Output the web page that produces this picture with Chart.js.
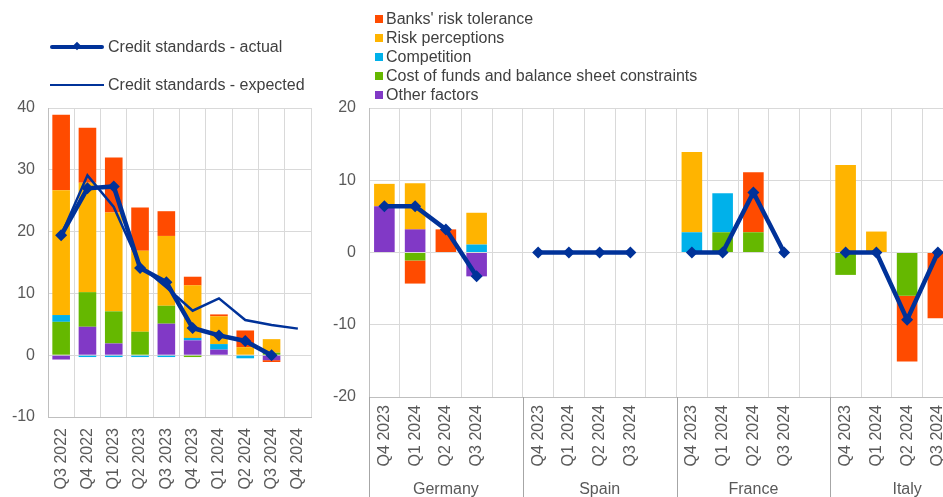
<!DOCTYPE html>
<html lang="en">
<head>
<meta charset="UTF-8">
<script src="https://cdn.jsdelivr.net/npm/chart.js@4.4.1/dist/chart.umd.min.js"></script>
<title>Credit standards</title>
<style>
  body { margin: 0; width: 943px; height: 497px; overflow: hidden; background: #fff;
         font-family: "Liberation Sans", Arial, sans-serif; color: #404040; position: relative; }
  canvas { position: absolute; top: 0; }
  #left { left: 0; }
  #right { left: 320px; }
  .leg { position: absolute; font-size: 16px; white-space: nowrap; line-height: 19px; }
  .sw { position: absolute; }
  .sq { display: inline-block; width: 8px; height: 8px; margin-right: 3px; vertical-align: 1px; }
</style>
</head>
<body>
<canvas id="left" width="320" height="497"></canvas>
<canvas id="right" width="670" height="497"></canvas>

<!-- legends -->
<div class="sw" style="left:50px;top:45px;width:54px;height:4px;background:#003299;border-radius:2px"></div>
<div class="sw" style="left:74px;top:43px;width:6px;height:6px;background:#003299;transform:rotate(45deg)"></div>
<div class="leg" style="left:108px;top:37px">Credit standards - actual</div>
<div class="sw" style="left:50px;top:84px;width:54px;height:2px;background:#003299"></div>
<div class="leg" style="left:108px;top:75px">Credit standards - expected</div>

<div class="leg" id="legRight" style="left:375px;top:9px"></div>

<script>
// euro area panel
var quartersEA = ['Q3 2022', 'Q4 2022', 'Q1 2023', 'Q2 2023', 'Q3 2023', 'Q4 2023', 'Q1 2024', 'Q2 2024', 'Q3 2024', 'Q4 2024'];
var riskTolEA   = [12.2, 8.9, 8.9, 7.0, 4.0, 1.4, 0.3, 2.7, -0.3, null];
var riskPercEA  = [20.2, 17.7, 16.0, 13.1, 11.3, 8.5, 4.5, 1.3, 2.2, null];
var competEA    = [1.1, -0.3, -0.3, -0.3, -0.3, 0.4, 0.9, -0.5, 0, null];
var costFundsEA = [5.4, 5.6, 5.2, 3.8, 2.9, -0.3, 0, 0, 0.4, null];
var otherEA     = [-0.7, 4.6, 1.9, 0, 5.1, 2.4, 0.9, 0, -0.8, null];
var actualEA    = [19.4, 27.0, 27.3, 14.1, 11.8, 4.4, 3.2, 2.3, 0.0, null];
var expectedEA  = [19.4, 29.1, 24.0, 14.5, 11.0, 7.2, 9.2, 5.7, 4.9, 4.3];

// country panel (Q4 2023 .. Q3 2024 for each country)
var countries = ['Germany', 'Spain', 'France', 'Italy'];
var quartersC = ['Q4 2023', 'Q1 2024', 'Q2 2024', 'Q3 2024'];
var riskTolC = {
  Germany: [0, -3.2, 3.2, 0], Spain: [0, 0, 0, 0], France: [0, 0, 8.3, 0], Italy: [0, 0, -9.1, -9.1]
};
var riskPercC = {
  Germany: [3.1, 6.4, 0, 4.4], Spain: [0, 0, 0, 0], France: [11.1, 0, 0, 0], Italy: [12.1, 2.9, 0, 0]
};
var competC = {
  Germany: [0, 0, 0, 1.1], Spain: [0, 0, 0, 0], France: [2.8, 5.4, 0, 0], Italy: [0, 0, 0, 0]
};
var costFundsC = {
  Germany: [0, -1.1, 0, 0], Spain: [0, 0, 0, 0], France: [0, 2.8, 2.8, 0], Italy: [-3.1, 0, -6.0, 0]
};
var otherC = {
  Germany: [6.4, 3.2, 0, -3.3], Spain: [0, 0, 0, 0], France: [0, 0, 0, 0], Italy: [0, 0, 0, 0]
};
var actualC = {
  Germany: [6.4, 6.4, 3.2, -3.3], Spain: [0, 0, 0, 0], France: [0, 0, 8.3, 0], Italy: [0, 0, -9.3, 0]
};

var factorNames = ["Banks' risk tolerance", 'Risk perceptions', 'Competition', 'Cost of funds and balance sheet constraints', 'Other factors'];
var factorColors = ['#FF4B00', '#FFB400', '#00B1EA', '#65B800', '#8139C6'];
var navy = '#003299';
var gridCol = '#d9d9d9';
var tickCol = '#595959';
var fontSpec = { family: '"Liberation Sans", Arial, sans-serif', size: 16 };

// legend for factors
var legRight = document.getElementById('legRight');
factorNames.forEach(function (n, i) {
  legRight.innerHTML += '<div><span class="sq" style="background:' + factorColors[i] + '"></span>' + n + '</div>';
});

function barSets(series) {
  // stacking from the bottom: other, cost of funds, competition, risk perceptions, risk tolerance
  var order = [4, 3, 2, 1, 0];
  return order.map(function (k) {
    return {
      type: 'bar', label: factorNames[k], data: series[k], backgroundColor: factorColors[k],
      borderWidth: 0, stack: 'bars', order: 2, barPercentage: 0.67, categoryPercentage: 1
    };
  });
}

function yAxis(min, max, width) {
  return {
    stacked: true, min: min, max: max,
    ticks: { stepSize: 10, color: tickCol, font: fontSpec, padding: 13 },
    grid: { color: gridCol, drawTicks: false },
    border: { color: '#bfbfbf' },
    afterFit: function (s) { s.width = width; }
  };
}

function xAxis(height, pad) {
  return {
    stacked: true,
    ticks: { color: tickCol, font: fontSpec, minRotation: 90, maxRotation: 90, autoSkip: false, padding: pad },
    grid: { color: gridCol, drawTicks: false, offset: true },
    border: { color: '#bfbfbf' },
    afterFit: function (s) {
      s.height = height;
      s.paddingLeft = 0;
      s.paddingRight = 0;
    }
  };
}

Chart.defaults.animation = false;

new Chart(document.getElementById('left'), {
  type: 'bar',
  data: {
    labels: quartersEA,
    datasets: [
      { type: 'line', label: 'Credit standards - actual', data: actualEA, borderColor: navy, backgroundColor: navy,
        borderWidth: 4.5, pointStyle: 'rectRot', pointRadius: 6, pointBorderWidth: 0, stack: 'act', order: 0 },
      { type: 'line', label: 'Credit standards - expected', data: expectedEA, borderColor: navy,
        borderWidth: 2.5, pointRadius: 0, stack: 'exp', order: 1 }
    ].concat(barSets([riskTolEA, riskPercEA, competEA, costFundsEA, otherEA]))
  },
  options: {
    responsive: false,
    layout: { padding: { top: 108, right: 9, bottom: 0, left: 0 } },
    plugins: { legend: { display: false }, tooltip: { enabled: false } },
    scales: { x: xAxis(80, 11), y: yAxis(-10, 40, 48) }
  }
});

// build the grouped category axis with a spacer slot after each country
var slotsPerGroup = quartersC.length + 1;
var labelsC = [];
function flat(obj) {
  var out = [];
  countries.forEach(function (c) { out = out.concat(obj[c], [null]); });
  return out;
}
countries.forEach(function () { labelsC = labelsC.concat(quartersC, ['']); });

var groupPlugin = {
  id: 'groups',
  afterDraw: function (chart) {
    var x = chart.scales.x, ctx = chart.ctx;
    var w = (x.right - x.left) / chart.data.labels.length;
    ctx.save();
    ctx.strokeStyle = '#a6a6a6';
    ctx.lineWidth = 1;
    ctx.fillStyle = tickCol;
    ctx.font = '16px "Liberation Sans", Arial, sans-serif';
    ctx.textAlign = 'center';
    ctx.textBaseline = 'middle';
    countries.forEach(function (c, i) {
      var x0 = Math.round(x.left + i * slotsPerGroup * w) + 0.5;
      ctx.beginPath();
      ctx.moveTo(x0, x.top);
      ctx.lineTo(x0, chart.height);
      ctx.stroke();
      ctx.fillText(c, x.left + (i + 0.5) * slotsPerGroup * w, 490);
    });
    ctx.restore();
  }
};

new Chart(document.getElementById('right'), {
  type: 'bar',
  data: {
    labels: labelsC,
    datasets: [
      { type: 'line', label: 'Credit standards - actual', data: flat(actualC), borderColor: navy, backgroundColor: navy,
        borderWidth: 4.5, pointStyle: 'rectRot', pointRadius: 6, pointBorderWidth: 0, spanGaps: false, stack: 'act', order: 0 }
    ].concat(barSets([flat(riskTolC), flat(riskPercC), flat(competC), flat(costFundsC), flat(otherC)]))
  },
  options: {
    responsive: false,
    layout: { padding: { top: 108, right: 0, bottom: 0, left: 0 } },
    plugins: { legend: { display: false }, tooltip: { enabled: false } },
    scales: { x: xAxis(100, 8), y: yAxis(-20, 20, 49) }
  },
  plugins: [groupPlugin]
});
</script>
</body>
</html>
